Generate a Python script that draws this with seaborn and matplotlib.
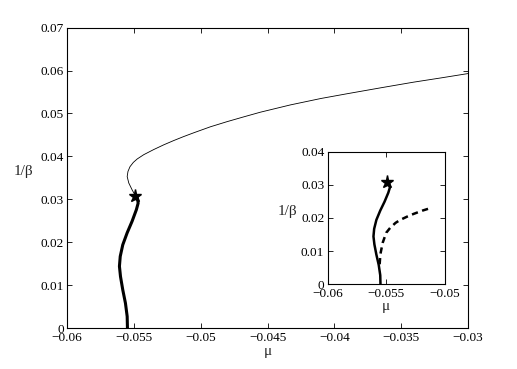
import matplotlib
matplotlib.use("Agg")
import seaborn as sns
from matplotlib import pyplot as plt
from matplotlib.ticker import FuncFormatter

# thick branch (bottom up to the star)
mu_thick = [-0.05549, -0.05551, -0.05564, -0.05584, -0.05601, -0.05609, -0.05603,
            -0.05584, -0.05551, -0.05514, -0.05482, -0.05469, -0.05474, -0.05489]
b_thick = [0.0, 0.0027, 0.0058, 0.0089, 0.0120, 0.0144, 0.0167,
           0.0194, 0.0222, 0.0249, 0.0276, 0.0291, 0.0303, 0.0308]

# thin branch (from the star onwards)
mu_thin = [-0.05489, -0.05514, -0.05539, -0.05551, -0.05545, -0.05530, -0.05505, -0.05476,
           -0.05427, -0.05352, -0.05277, -0.05202, -0.05130, -0.05053, -0.04928,
           -0.04803, -0.04680, -0.04554, -0.04329, -0.04100, -0.03905, -0.03650,
           -0.03407, -0.03200, -0.03000]
b_thin = [0.0308, 0.0322, 0.0338, 0.0353, 0.0365, 0.0376, 0.0386, 0.0394,
          0.0404, 0.0416, 0.0427, 0.0437, 0.0446, 0.0455, 0.0469,
          0.0481, 0.0492, 0.0503, 0.0520, 0.0535, 0.0546, 0.0560,
          0.0573, 0.0583, 0.0593]

# dashed branch in the inset
mu_dash = [-0.05556, -0.05550, -0.05530, -0.05500, -0.05466, -0.05420,
           -0.05380, -0.05320, -0.05266, -0.05190, -0.05109]
b_dash = [0.0060, 0.0090, 0.0125, 0.0155, 0.0170, 0.0185,
          0.0194, 0.0204, 0.0212, 0.0222, 0.0231]

star_mu = [-0.05489]
star_b = [0.0308]

main_xticks = [-0.06, -0.055, -0.05, -0.045, -0.04, -0.035, -0.03]
main_yticks = [0, 0.01, 0.02, 0.03, 0.04, 0.05, 0.06, 0.07]
ins_xticks = [-0.06, -0.055, -0.05]
ins_yticks = [0, 0.01, 0.02, 0.03, 0.04]

sns.set_style("ticks")
plt.rcParams['font.family'] = ['Liberation Serif', 'DejaVu Serif']
plt.rcParams['axes.unicode_minus'] = True

fmt = FuncFormatter(lambda v, p: ('%g' % round(v, 6)).replace('-', '\u2212'))


def style_axes(ax, xt, yt, xlim, ylim):
    ax.set_xlim(*xlim)
    ax.set_ylim(*ylim)
    ax.set_xticks(xt)
    ax.set_yticks(yt)
    ax.xaxis.set_major_formatter(fmt)
    ax.yaxis.set_major_formatter(fmt)
    ax.tick_params(direction='in', length=3.5, width=0.6, top=True, right=True,
                   labelsize=9.5, pad=2.5, colors='black')
    for s in ax.spines.values():
        s.set_visible(True)
        s.set_linewidth(0.8)
        s.set_color('black')
    ax.set_facecolor('white')


fig = plt.figure(figsize=(5.17, 3.69), dpi=100)
ax = fig.add_axes([0.13, 0.111, 0.775, 0.814])
sns.lineplot(x=mu_thick, y=b_thick, sort=False, estimator=None, color='black', lw=2.2, ax=ax)
sns.lineplot(x=mu_thin, y=b_thin, sort=False, estimator=None, color='black', lw=0.6, ax=ax)
ax.plot(star_mu, star_b, marker='*', color='black', ms=9.5, ls='none')
style_axes(ax, main_xticks, main_yticks, (-0.06, -0.03), (0, 0.07))
ax.set_xlabel('\u03bc', fontsize=11, labelpad=1)
ax.set_ylabel('1/\u03b2', fontsize=11, rotation=0, labelpad=12)

ins = fig.add_axes([0.634, 0.230, 0.226, 0.359])
sns.lineplot(x=mu_thick, y=b_thick, sort=False, estimator=None, color='black', lw=1.8, ax=ins)
sns.lineplot(x=mu_dash, y=b_dash, sort=False, estimator=None, color='black', lw=1.8,
             ax=ins, dashes=False, linestyle=(0, (2.5, 1.8)))
ins.plot(star_mu, star_b, marker='*', color='black', ms=9.5, ls='none')
style_axes(ins, ins_xticks, ins_yticks, (-0.06, -0.05), (0, 0.04))
ins.set_xlabel('\u03bc', fontsize=11, labelpad=0)
ins.set_ylabel('1/\u03b2', fontsize=11, rotation=0, labelpad=10)

fig.savefig('out.png', dpi=100)
